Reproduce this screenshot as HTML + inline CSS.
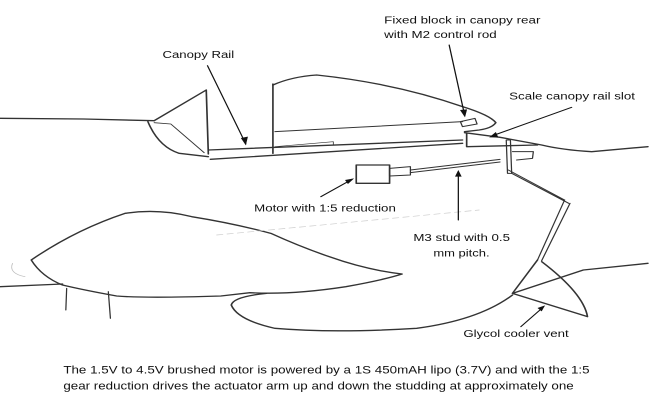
<!DOCTYPE html>
<html><head><style>
html,body{margin:0;padding:0;background:#fff;overflow:hidden;}
svg{display:block;}
text{font-family:"Liberation Sans",Arial,sans-serif;fill:#111;}
</style></head><body>
<svg width="650" height="402" viewBox="0 0 1560 1206" preserveAspectRatio="none" xmlns="http://www.w3.org/2000/svg">
<g fill="none" stroke="#333" stroke-width="4" stroke-linecap="round" stroke-linejoin="round">
<path d="M0,355 L200,357 L370,362"/>
<path d="M370,362 L495,270 L500,462"/>
<path d="M355,365 Q380,440 430,460 L500,470"/>
<path d="M370,368 L410,372 L490,458" stroke-width="2.5"/>
<path d="M500,450 L1110,420"/>
<path d="M505,478 L1110,430"/>
<path d="M655,460 L655,252"/>
<path d="M655,255 Q700,230 760,225 Q950,250 1110,320 Q1175,345 1190,368 Q1180,385 1150,390 L1115,395"/>
<path d="M660,395 L1110,365" stroke-width="3"/>
<path d="M660,440 L800,425 L800,435" stroke-width="2"/>
<path d="M1115,398 L1200,412 L1300,435 Q1350,450 1420,455 L1555,440"/>
<path d="M1120,400 L1120,440 L1290,435"/>
<path d="M1105,365 L1140,355 L1145,372 L1110,380 Z" stroke-width="3"/>
<rect x="855" y="495" width="80" height="55"/>
<path d="M935,505 L985,500 L985,525 L935,528 Z" stroke-width="3"/>
<path d="M985,510 L1200,478 M985,518 L1200,486" stroke-width="3"/>
<path d="M1215,420 L1225,420 L1228,520 L1218,520 Z" stroke-width="3"/>
<path d="M1230,455 L1280,455 L1278,475 L1240,480" stroke-width="3"/>
<path d="M1220,510 L1355,600 M1228,520 L1365,610" stroke-width="3"/>
<path d="M1355,600 L1290,780 M1368,610 L1300,782" stroke-width="3"/>
<path d="M1290,780 L1230,880 L1410,950 Q1400,880 1300,785"/>
<path d="M1230,880 L1400,810 L1555,790"/>
<path d="M75,780 Q180,690 300,640 Q380,625 460,650 Q560,670 650,700 Q720,740 790,770 Q880,810 965,822 Q920,840 830,860 Q700,885 600,878 L530,888 Q350,895 280,888 Q200,870 150,855 Q100,830 75,780 Z"/>
<path d="M0,860 L150,852"/>
<path d="M160,865 L158,930 M260,875 L265,955" stroke-width="3"/>
<path d="M640,880 Q560,890 555,915 Q570,960 660,985 Q800,1000 1000,985 Q1150,960 1230,885"/>
<path d="M30,790 Q20,820 60,830" stroke="#bbb" stroke-width="2"/>
<path d="M520,705 L1150,630" stroke="#ccc" stroke-width="2" stroke-dasharray="15,10"/>
<g stroke="#111" stroke-width="3">
<path d="M498,197 L590,432"/>
<path d="M1078,135 L1115,345"/>
<path d="M1372,322 L1180,408"/>
<path d="M770,590 L845,538"/>
<path d="M1100,660 L1100,515"/>
<path d="M1250,980 L1305,920"/>
</g>
</g>
<g fill="#111">
<path d="M590,436 L578,414 L595,410 Z"/>
<path d="M1116,352 L1104,330 L1121,328 Z"/>
<path d="M1174,412 L1190,396 L1196,412 Z"/>
<path d="M850,535 L835,552 L828,540 Z"/>
<path d="M1100,510 L1092,530 L1108,530 Z"/>
<path d="M1308,916 L1300,934 L1290,924 Z"/>
</g>
<g font-size="30">
<text x="390" y="174" textLength="172" lengthAdjust="spacingAndGlyphs">Canopy Rail</text>
<text x="922" y="71" textLength="375" lengthAdjust="spacingAndGlyphs">Fixed block in canopy rear</text>
<text x="922" y="114" textLength="270" lengthAdjust="spacingAndGlyphs">with M2 control rod</text>
<text x="1222" y="298" textLength="302" lengthAdjust="spacingAndGlyphs">Scale canopy rail slot</text>
<text x="610" y="635" textLength="340" lengthAdjust="spacingAndGlyphs">Motor with 1:5 reduction</text>
<text x="992" y="723" textLength="232" lengthAdjust="spacingAndGlyphs">M3 stud with 0.5</text>
<text x="1040" y="769" textLength="135" lengthAdjust="spacingAndGlyphs">mm pitch.</text>
<text x="1112" y="1011" textLength="253" lengthAdjust="spacingAndGlyphs">Glycol cooler vent</text>
</g>
<g font-size="32">
<text x="152" y="1121" textLength="1263" lengthAdjust="spacingAndGlyphs">The 1.5V to 4.5V brushed motor is powered by a 1S 450mAH lipo (3.7V) and with the 1:5</text>
<text x="152" y="1168" textLength="1225" lengthAdjust="spacingAndGlyphs">gear reduction drives the actuator arm up and down the studding at approximately one</text>
</g>
</svg>
</body></html>
